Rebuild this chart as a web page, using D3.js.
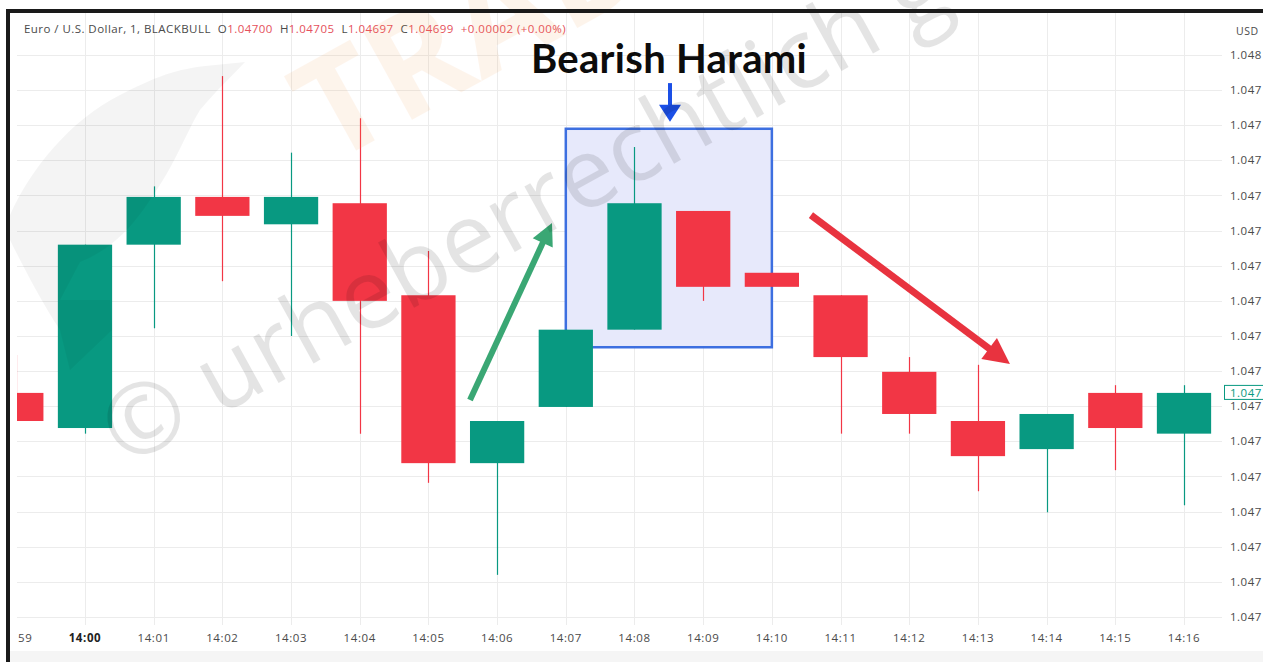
<!DOCTYPE html>
<html>
<head>
<meta charset="utf-8">
<script src="https://cdn.jsdelivr.net/npm/d3@7"></script>
<style>
  html, body { margin: 0; padding: 0; background: #fff; overflow: hidden; }
  svg { display: block; }
</style>
</head>
<body>
<div id="chart"></div>
<script>
const width = 1263, height = 662;
const plot = {left: 17, right: 1222, top: 13, bottom: 625};

// one-minute candles, EUR/USD
const times = ["13:59","14:00","14:01","14:02","14:03","14:04","14:05","14:06","14:07",
               "14:08","14:09","14:10","14:11","14:12","14:13","14:14","14:15","14:16"];
const open  = [1.047519,1.047469,1.047730,1.047798,1.047759,1.047789,1.047658,1.047419,1.047499,
               1.047609,1.047778,1.047690,1.047658,1.047549,1.047479,1.047439,1.047519,1.047461];
const high  = [1.047573,1.047730,1.047813,1.047970,1.047861,1.047910,1.047721,1.047479,1.047609,
               1.047869,1.047778,1.047690,1.047658,1.047570,1.047559,1.047489,1.047530,1.047530];
const low   = [1.047479,1.047461,1.047611,1.047678,1.047600,1.047461,1.047391,1.047260,1.047499,
               1.047609,1.047650,1.047670,1.047461,1.047461,1.047379,1.047349,1.047409,1.047359];
const close = [1.047479,1.047730,1.047798,1.047771,1.047798,1.047650,1.047419,1.047479,1.047609,
               1.047789,1.047670,1.047670,1.047570,1.047489,1.047429,1.047489,1.047469,1.047519];

const priceTicks = [1.04800,1.04795,1.04790,1.04785,1.04780,1.04775,1.04770,1.04765,1.04760,
                    1.04755,1.04750,1.04745,1.04740,1.04735,1.04730,1.04725,1.04720];

// annotations (candle index, price)
const haramiBox = {start: 8, end: 11, top: 1.047895, bottom: 1.047584};
const upArrow = {from: [6.605, 1.047509], to: [7.799, 1.047761]};
const downArrow = {from: [11.569, 1.047772], to: [14.466, 1.047560]};
const markerArrow = {at: 9.517, from: 1.047960, to: 1.047905};
const title = "Bearish Harami";

const headerName = "Euro / U.S. Dollar, 1, BLACKBULL";
const headerOHLC = [["O","1.04700"],["H","1.04705"],["L","1.04697"],["C","1.04699"],["","+0.00002 (+0.00%)"]];

const green = "#089981", red = "#f23645";

const svg = d3.select("#chart")
  .append("svg")
  .attr("width", width)
  .attr("height", height);

var x = d3.scaleLinear()
  .domain([0, times.length - 1])
  .range([16.3, 1184]);
var y = d3.scaleLinear()
  .domain([1.04720, 1.04800])
  .range([617, 55]);

svg.append("rect").attr("width", width).attr("height", height).attr("fill", "#fff");

const defs = svg.append("defs");
defs.append("clipPath").attr("id", "plotClip")
  .append("rect")
  .attr("x", plot.left).attr("y", plot.top)
  .attr("width", plot.right - plot.left).attr("height", plot.bottom - plot.top);
defs.append("clipPath").attr("id", "timeClip")
  .append("rect")
  .attr("x", 18).attr("y", plot.bottom)
  .attr("width", plot.right - 18).attr("height", 30);

// bottom strip
svg.append("rect")
  .attr("x", 10).attr("y", 651).attr("width", width - 10).attr("height", 11)
  .attr("fill", "#f5f5f5");

// grid
const grid = svg.append("g").attr("clip-path", "url(#plotClip)");
grid.selectAll(".hgrid")
  .data(priceTicks)
  .enter().append("line")
  .attr("x1", plot.left).attr("x2", plot.right)
  .attr("y1", d => Math.round(y(d)) + 0.5).attr("y2", d => Math.round(y(d)) + 0.5)
  .attr("stroke", "#ececec");
grid.selectAll(".vgrid")
  .data(times)
  .enter().append("line")
  .attr("x1", (d, i) => Math.round(x(i)) + 0.5).attr("x2", (d, i) => Math.round(x(i)) + 0.5)
  .attr("y1", plot.top).attr("y2", plot.bottom)
  .attr("stroke", "#ececec");

// harami highlight box
grid.append("rect")
  .attr("x", x(haramiBox.start))
  .attr("y", y(haramiBox.top))
  .attr("width", x(haramiBox.end) - x(haramiBox.start))
  .attr("height", y(haramiBox.bottom) - y(haramiBox.top))
  .attr("fill", "#e7e9fb")
  .attr("stroke", "#3d6fe0")
  .attr("stroke-width", 2.5);

// candles
const step = x(1) - x(0);
const bodyW = step * 0.79;
const candles = grid.append("g")
  .selectAll("g")
  .data(times)
  .enter().append("g")
  .attr("fill", (d, i) => close[i] >= open[i] ? green : red)
  .attr("stroke", (d, i) => close[i] >= open[i] ? green : red);
candles.append("line")
  .attr("x1", (d, i) => Math.round(x(i)) + 0.5)
  .attr("x2", (d, i) => Math.round(x(i)) + 0.5)
  .attr("y1", (d, i) => y(high[i]))
  .attr("y2", (d, i) => y(low[i]))
  .attr("stroke-width", 1.2);
candles.append("rect")
  .attr("stroke", "none")
  .attr("x", (d, i) => x(i) - bodyW / 2)
  .attr("width", bodyW)
  .attr("y", (d, i) => y(Math.max(open[i], close[i])))
  .attr("height", (d, i) => Math.max(1, Math.abs(y(open[i]) - y(close[i]))));

// trend arrows
function arrow(g, x1, y1, x2, y2, color, w, headLen, headW) {
  const dx = x2 - x1, dy = y2 - y1, len = Math.hypot(dx, dy);
  const ux = dx / len, uy = dy / len;
  const bx = x2 - ux * headLen, by = y2 - uy * headLen;
  g.append("line")
    .attr("x1", x1).attr("y1", y1).attr("x2", bx + ux * 2).attr("y2", by + uy * 2)
    .attr("stroke", color).attr("stroke-width", w);
  g.append("polygon")
    .attr("points", [[x2, y2], [bx - uy * headW / 2, by + ux * headW / 2], [bx + uy * headW / 2, by - ux * headW / 2]].map(p => p.join(",")).join(" "))
    .attr("fill", color);
}
const ann = svg.append("g");
arrow(ann, x(upArrow.from[0]), y(upArrow.from[1]), x(upArrow.to[0]), y(upArrow.to[1]), "#3aa774", 6, 22, 22);
arrow(ann, x(downArrow.from[0]), y(downArrow.from[1]), x(downArrow.to[0]), y(downArrow.to[1]), "#e8333f", 7, 26, 26);
arrow(ann, x(markerArrow.at), y(markerArrow.from), x(markerArrow.at), y(markerArrow.to), "#1b4fe6", 4, 17, 22);

ann.append("text")
  .attr("x", x(markerArrow.at) - 1)
  .attr("y", 73)
  .attr("text-anchor", "middle")
  .attr("font-family", "Lato, 'Open Sans', sans-serif")
  .attr("font-weight", 700)
  .attr("font-size", 40)
  .attr("letter-spacing", 0.3)
  .attr("fill", "#0c0c0c")
  .text(title);

// header legend
const header = svg.append("text")
  .attr("x", 24).attr("y", 33)
  .attr("font-family", "'Open Sans', sans-serif")
  .attr("font-size", 11.5)
  .attr("letter-spacing", 0.45)
  .attr("fill", "#4a4a4a");
header.append("tspan").text(headerName);
headerOHLC.forEach(d => {
  if (d[0]) header.append("tspan").attr("dx", 7).text(d[0]);
  header.append("tspan").attr("dx", d[0] ? 0 : 7).attr("fill", "#e5505b").text(d[1]);
});

// price axis
const priceAxis = svg.append("g")
  .attr("font-family", "'Open Sans', sans-serif")
  .attr("font-size", 11.5)
  .attr("letter-spacing", 0.5)
  .attr("fill", "#4a4a4a");
priceAxis.append("text").attr("x", 1236).attr("y", 35).attr("font-size", 10.5).text("USD");
priceAxis.selectAll(".ptick")
  .data(priceTicks)
  .enter().append("text")
  .attr("x", 1230)
  .attr("y", d => y(d) + 4)
  .text(d => d3.format(".5f")(d).slice(0, 5));
const last = close[close.length - 1];
priceAxis.append("rect")
  .attr("x", 1224.5).attr("y", y(last) - 7.5)
  .attr("width", 45).attr("height", 14)
  .attr("fill", "#fff").attr("stroke", green);
priceAxis.append("text")
  .attr("x", 1230).attr("y", y(last) + 4)
  .attr("fill", green)
  .text(d3.format(".5f")(last).slice(0, 5));

// time axis
const timeAxis = svg.append("g")
  .attr("clip-path", "url(#timeClip)")
  .attr("font-family", "'Open Sans', sans-serif")
  .attr("font-size", 11.5)
  .attr("letter-spacing", 0.6)
  .attr("fill", "#4a4a4a");
timeAxis.selectAll("text")
  .data(times)
  .enter().append("text")
  .attr("x", (d, i) => x(i))
  .attr("y", 642)
  .attr("text-anchor", "middle")
  .attr("font-weight", d => d === "14:00" ? 700 : 400)
  .attr("fill", d => d === "14:00" ? "#222" : "#4a4a4a")
  .text(d => d);

// watermarks
const wm = svg.append("g").attr("pointer-events", "none");
wm.append("path")
  .attr("d", "M10,215 C30,170 70,120 120,95 C150,80 170,70 205,66 L245,62 C230,78 215,92 200,110 C185,135 175,165 150,200 C130,230 110,250 80,262 L60,300 L110,300 L112,330 L70,370 L60,330 C40,300 20,260 10,240 Z")
  .attr("fill", "#000").attr("opacity", 0.045);
wm.append("text")
  .attr("transform", "translate(330,165) rotate(-29)")
  .attr("font-family", "'Open Sans', sans-serif")
  .attr("font-weight", 700)
  .attr("font-size", 140)
  .attr("fill", "#f59a4a")
  .attr("opacity", 0.1)
  .text("TRADERS");
wm.append("text")
  .attr("transform", "translate(125,468) rotate(-29)")
  .attr("font-family", "'Open Sans', sans-serif")
  .attr("font-size", 98)
  .attr("fill", "#000")
  .attr("opacity", 0.1)
  .text("© urheberrechtlich geschützt");

// frame
svg.append("rect").attr("x", 6).attr("y", 9).attr("width", width).attr("height", 4).attr("fill", "#1a1a1a");
svg.append("rect").attr("x", 6).attr("y", 9).attr("width", 4).attr("height", height).attr("fill", "#1a1a1a");
</script>
</body>
</html>
